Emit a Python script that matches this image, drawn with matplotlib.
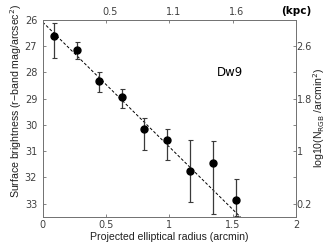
import matplotlib
matplotlib.use("Agg")
import matplotlib.pyplot as plt
import matplotlib.transforms as mtransforms
import numpy as np

# data
radius = [0.089, 0.268, 0.446, 0.624, 0.802, 0.984, 1.163, 1.343, 1.526]   # arcmin
sb = [26.60, 27.13, 28.32, 28.93, 30.16, 30.57, 31.75, 31.47, 32.87]       # mag/arcsec^2
err_up = [0.47, 0.28, 0.32, 0.30, 0.43, 0.41, 1.19, 0.86, 0.79]           # towards brighter
err_down = [0.86, 0.37, 0.42, 0.44, 0.80, 0.78, 1.19, 1.91, 0.61]         # towards fainter

fit_mu0 = 26.08     # fitted central surface brightness
fit_slope = 4.76    # mag per arcmin

kpc_ticks = [0.5, 1.0, 1.5]          # arcmin position of the kpc ticks
kpc_labels = ["0.5", "1.1", "1.6"]

right_ticks = [0.2, 0.6, 1.0, 1.4, 1.8, 2.2, 2.6]
right_labels = ["0.2", "", "1", "", "1.8", "", "2.6"]
sb_zero = 33.5   # log10(N) = (sb_zero - sb) / 2.5

grey = "#707070"
txt = "#404040"
lab_font = "Liberation Sans"

fig = plt.figure(figsize=(3.27, 2.46), dpi=100)
ax = fig.add_axes([0.1306, 0.1191, 0.7746, 0.7996])

xx = np.array([0, 2])
ax.plot(xx, fit_mu0 + fit_slope * xx, color="black", ls=(0, (3, 2)), lw=0.7)
ax.errorbar(radius, sb, yerr=[err_up, err_down], fmt="o", color="black",
            ms=5, ecolor="#3a3a3a", elinewidth=0.9, capsize=1.8, capthick=0.8)

ax.set_xlim(0, 2)
ax.set_ylim(33.5, 26)
ax.set_xticks([0, 0.5, 1, 1.5, 2])
ax.set_xticklabels(["0", "0.5", "1", "1.5", "2"])
ax.set_yticks(range(26, 34))
ax.tick_params(direction="in", length=2.5, width=0.6, colors=grey,
               labelcolor=txt, labelsize=7)
ax.tick_params(axis="y", pad=4)
ax.tick_params(axis="x", pad=2.5)
for s in ax.spines.values():
    s.set_color(grey)
    s.set_linewidth(0.7)

ax.set_xlabel("Projected elliptical radius (arcmin)", fontsize=7.6,
              family=lab_font, color="#202020", labelpad=1)
ax.set_ylabel("Surface brightness (r\u2212band mag/arcsec$^2$)", fontsize=7.6,
              family=lab_font, color="#202020")
ax.yaxis.set_label_coords(-0.075, 0.59)

ax.text(0.74, 0.735, "Dw9", transform=ax.transAxes, fontsize=8.5,
        ha="center", va="center")

# top axis in kpc
top = ax.secondary_xaxis("top")
top.set_xticks(kpc_ticks)
top.set_xticklabels(kpc_labels)
top.tick_params(direction="in", length=2.5, width=0.6, colors=grey,
                labelcolor=txt, labelsize=7, pad=2)
top.spines["top"].set_visible(False)
shift = mtransforms.ScaledTranslation(4 / 100, 0, fig.dpi_scale_trans)
for lab in top.get_xticklabels():
    lab.set_transform(lab.get_transform() + shift)
fig.text(296 / 327, 1 - 11 / 246, "(kpc)", fontsize=7.5, fontweight="bold",
         ha="center", va="center")

# right axis in log10 counts
ax2 = ax.twinx()
ax2.set_ylim((sb_zero - 33.5) / 2.5, (sb_zero - 26) / 2.5)
ax2.set_yticks(right_ticks)
ax2.set_yticklabels(right_labels)
ax2.tick_params(direction="in", length=2.5, width=0.6, colors=grey,
                labelcolor=txt, labelsize=7, pad=0.5)
for s in ax2.spines.values():
    s.set_visible(False)
ax2.set_ylabel("log10(N$_{\\mathrm{RGB}}$ /arcmin$^2$)", fontsize=7.6,
               family=lab_font, color="#202020")
ax2.yaxis.set_label_coords(1.06, 0.5)

fig.savefig("out.png", dpi=100)
